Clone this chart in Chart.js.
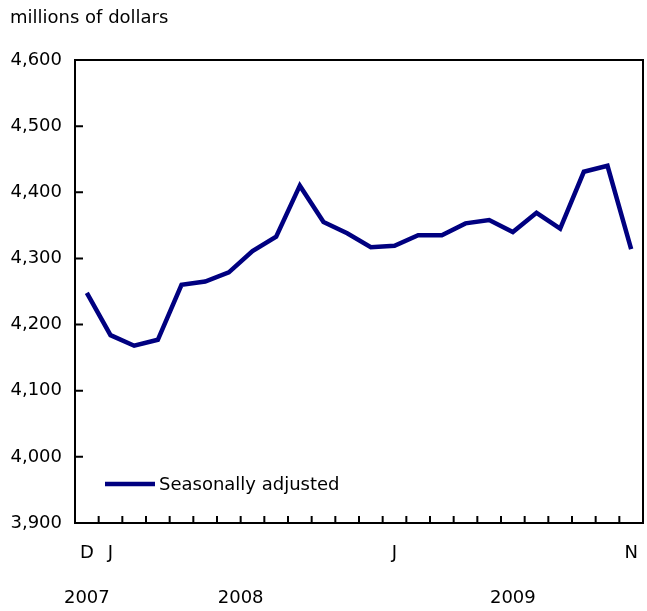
<!DOCTYPE html>
<html>
<head>
<meta charset="utf-8">
<script src="https://cdn.jsdelivr.net/npm/chart.js@4/dist/chart.umd.min.js"></script>
<style>
  html, body { margin: 0; padding: 0; background: #fff; overflow: hidden; }
  #wrap { width: 647px; height: 611px; position: relative; }
  canvas { display: block; }
</style>
</head>
<body>
<div id="wrap"><canvas id="myChart"></canvas></div>
<script>
const months = ["2007-12", "2008-01", "2008-02", "2008-03", "2008-04", "2008-05", "2008-06",
  "2008-07", "2008-08", "2008-09", "2008-10", "2008-11", "2008-12", "2009-01", "2009-02",
  "2009-03", "2009-04", "2009-05", "2009-06", "2009-07", "2009-08", "2009-09", "2009-10", "2009-11"];
const monthLetters = ["D", "J", "F", "M", "A", "M", "J", "J", "A", "S", "O", "N", "D",
  "J", "F", "M", "A", "M", "J", "J", "A", "S", "O", "N"];
const shownTicks = [0, 1, 13, 23];
const seasonallyAdjusted = [4248, 4184, 4168, 4177, 4260, 4265, 4279, 4311, 4333, 4410, 4355, 4338,
  4317, 4319, 4335, 4335, 4353, 4358, 4340, 4369, 4345, 4431, 4440, 4314];
const yearLabels = ["2007", "2008", "2009"];

const FONT = "DejaVu Sans";
const navy = "#000080";

const extras = {
  id: "extras",
  afterDraw(chart) {
    const { ctx, chartArea: a, scales: { x, y } } = chart;
    ctx.save();
    ctx.strokeStyle = "#000";
    ctx.lineWidth = 2;
    ctx.strokeRect(a.left, a.top, a.right - a.left, a.bottom - a.top);
    ctx.beginPath();
    y.ticks.forEach(t => {
      const py = y.getPixelForValue(t.value);
      ctx.moveTo(a.left, py);
      ctx.lineTo(a.left + 8, py);
    });
    for (let i = 0; i <= months.length; i++) {
      const px = x.getPixelForValue(i - 0.5);
      ctx.moveTo(px, a.bottom);
      ctx.lineTo(px, a.bottom - 7);
    }
    ctx.stroke();

    // unit label
    ctx.fillStyle = "#000";
    ctx.font = "18px '" + FONT + "'";
    ctx.textBaseline = "middle";
    ctx.textAlign = "left";
    ctx.fillText("millions of dollars", 10, 18);

    // legend inside plot
    const ly = a.bottom - 39;
    ctx.strokeStyle = navy;
    ctx.lineWidth = 4.5;
    ctx.beginPath();
    ctx.moveTo(a.left + 30, ly);
    ctx.lineTo(a.left + 80, ly);
    ctx.stroke();
    ctx.fillText("Seasonally adjusted", a.left + 84, ly + 1);

    // year labels centred under their months
    ctx.textAlign = "center";
    yearLabels.forEach(yr => {
      const idx = [];
      months.forEach((m, i) => { if (m.startsWith(yr)) idx.push(i); });
      const mid = (idx[0] + idx[idx.length - 1]) / 2;
      ctx.fillText(yr, x.getPixelForValue(mid), 598);
    });
    ctx.restore();
  }
};

new Chart("myChart", {
  type: "line",
  data: {
    labels: monthLetters,
    datasets: [
      {
        label: "Seasonally adjusted",
        data: seasonallyAdjusted,
        borderColor: navy,
        borderWidth: 4.5,
        pointRadius: 0,
        tension: 0,
        fill: false,
      },
    ],
  },
  options: {
    responsive: true,
    maintainAspectRatio: false,
    animation: false,
    layout: { padding: { top: 60, right: 4, left: 0, bottom: 0 } },
    plugins: { legend: { display: false }, tooltip: { enabled: false } },
    scales: {
      x: {
        offset: true,
        grid: { display: false, drawTicks: false },
        border: { display: false },
        ticks: {
          autoSkip: false,
          maxRotation: 0,
          padding: 20,
          color: "#000",
          font: { family: FONT, size: 18 },
          callback: (v, i) => (shownTicks.includes(i) ? monthLetters[i] : ""),
        },
        afterFit: s => { s.height = 88; s.paddingLeft = 0; s.paddingRight = 0; },
      },
      y: {
        min: 3900,
        max: 4600,
        grid: { display: false, drawTicks: false },
        border: { display: false },
        ticks: {
          stepSize: 100,
          padding: 13,
          color: "#000",
          font: { family: FONT, size: 18 },
          callback: v => v.toLocaleString("en-US"),
        },
        afterFit: s => { s.width = 75; s.paddingTop = 0; s.paddingBottom = 0; },
      },
    },
  },
  plugins: [extras],
});
</script>
</body>
</html>
